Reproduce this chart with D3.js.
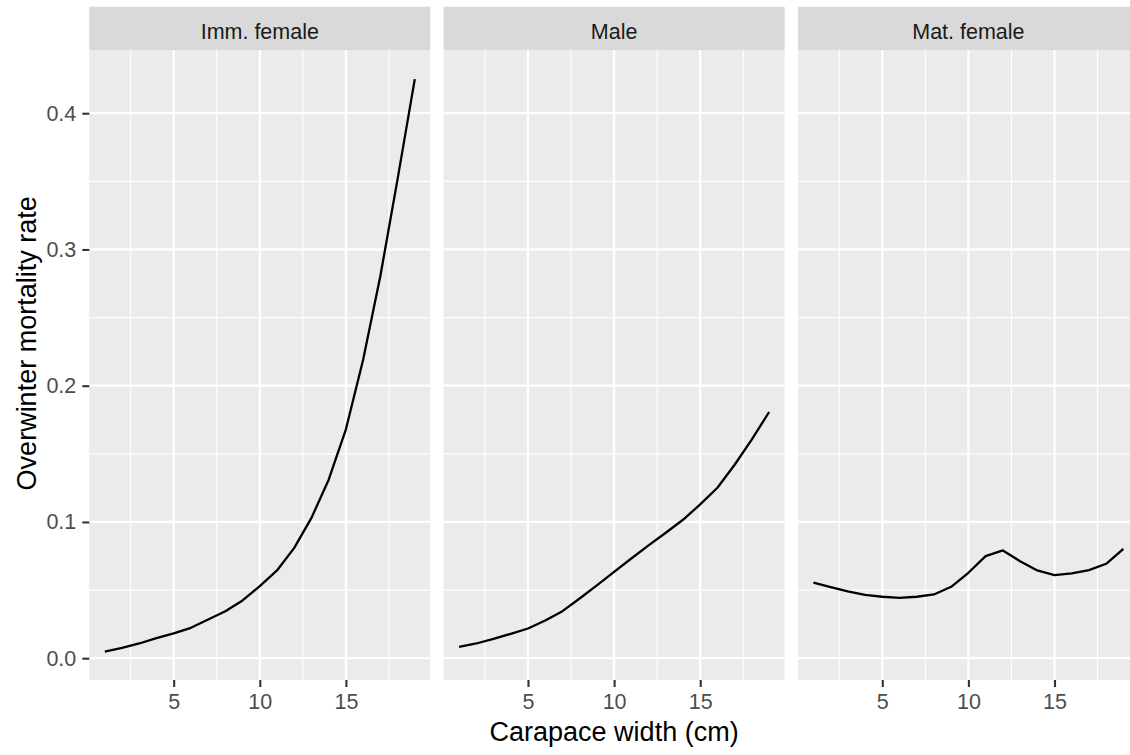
<!DOCTYPE html>
<html>
<head>
<meta charset="utf-8">
<script src="https://cdn.jsdelivr.net/npm/d3@7"></script>
<style>
  html, body { margin: 0; padding: 0; background: #ffffff; }
  svg { display: block; font-family: "Liberation Sans", Arial, sans-serif; }
</style>
</head>
<body>
<svg id="chart" width="1130" height="755"></svg>
<script>
// ---- data ----
const panels = ["Imm. female", "Male", "Mat. female"];
const carapaceWidth = [1, 2, 3, 4, 5, 6, 7, 8, 9, 10, 11, 12, 13, 14, 15, 16, 17, 18, 19];
const immFemale = [0.0049, 0.0076, 0.0108, 0.0147, 0.0182, 0.0223, 0.0284, 0.0345, 0.0424, 0.0529, 0.0644, 0.081, 0.103, 0.131, 0.168, 0.219, 0.2805, 0.3516, 0.425];
const male = [0.0084, 0.0108, 0.0142, 0.0179, 0.0218, 0.0277, 0.0345, 0.0438, 0.0534, 0.0634, 0.0732, 0.0828, 0.0921, 0.1016, 0.1129, 0.1251, 0.142, 0.1606, 0.1807];
const matFemale = [0.0554, 0.0522, 0.049, 0.0465, 0.0451, 0.0443, 0.0451, 0.0468, 0.0524, 0.0627, 0.0749, 0.0791, 0.0712, 0.0644, 0.061, 0.0622, 0.0646, 0.0693, 0.0803];
const xTicks = [5, 10, 15];
const xMinor = [2.5, 7.5, 12.5, 17.5];
const yTicks = [0.0, 0.1, 0.2, 0.3, 0.4];
const yMinor = [0.05, 0.15, 0.25, 0.35];
const xTitle = "Carapace width (cm)";
const yTitle = "Overwinter mortality rate";

const seriesList = [immFemale, male, matFemale];

// ---- layout ----
const svg = d3.select("#chart");
const panelLeft = 89.3, panelW = 341, panelGap = 13.3;
const stripTop = 6.7, stripBottom = 50, panelBottom = 680;

const y = d3.scaleLinear().domain([-0.016, 0.4464]).range([panelBottom, stripBottom]);

panels.forEach((name, i) => {
  const left = panelLeft + i * (panelW + panelGap);
  const x = d3.scaleLinear().domain([0.1, 19.9]).range([left, left + panelW]);
  const g = svg.append("g");

  // panel background
  g.append("rect").attr("x", left).attr("y", stripBottom)
    .attr("width", panelW).attr("height", panelBottom - stripBottom)
    .attr("fill", "#EBEBEB");

  // minor grid
  g.selectAll(".xminor").data(xMinor).enter().append("line")
    .attr("x1", d => x(d)).attr("x2", d => x(d))
    .attr("y1", stripBottom).attr("y2", panelBottom)
    .attr("stroke", "#ffffff").attr("stroke-width", 1.1);
  g.selectAll(".yminor").data(yMinor).enter().append("line")
    .attr("x1", left).attr("x2", left + panelW)
    .attr("y1", d => y(d)).attr("y2", d => y(d))
    .attr("stroke", "#ffffff").attr("stroke-width", 1.1);
  // major grid
  g.selectAll(".xmajor").data(xTicks).enter().append("line")
    .attr("x1", d => x(d)).attr("x2", d => x(d))
    .attr("y1", stripBottom).attr("y2", panelBottom)
    .attr("stroke", "#ffffff").attr("stroke-width", 2.2);
  g.selectAll(".ymajor").data(yTicks).enter().append("line")
    .attr("x1", left).attr("x2", left + panelW)
    .attr("y1", d => y(d)).attr("y2", d => y(d))
    .attr("stroke", "#ffffff").attr("stroke-width", 2.2);

  // strip
  g.append("rect").attr("x", left).attr("y", stripTop)
    .attr("width", panelW).attr("height", stripBottom - stripTop)
    .attr("fill", "#D9D9D9");
  g.append("text").attr("x", left + panelW / 2).attr("y", 38.8)
    .attr("text-anchor", "middle")
    .attr("font-size", 21.5).attr("fill", "#1A1A1A").text(name);

  // line
  const pts = carapaceWidth.map((cw, k) => [cw, seriesList[i][k]]);
  g.append("path").datum(pts)
    .attr("d", d3.line().x(d => x(d[0])).y(d => y(d[1])))
    .attr("fill", "none").attr("stroke", "#000000").attr("stroke-width", 2.3)
    .attr("stroke-linejoin", "round");

  // x axis
  const xa = g.append("g").attr("transform", `translate(0,${panelBottom})`)
    .call(d3.axisBottom(x).tickValues(xTicks).tickSize(7).tickPadding(7).tickFormat(d3.format("d")));
  xa.select(".domain").remove();
  xa.selectAll(".tick line").attr("stroke", "#333333").attr("stroke-width", 2.1);
  xa.selectAll(".tick text").attr("fill", "#4D4D4D").attr("font-size", 21.5)
    .attr("font-family", "Liberation Sans, Arial, sans-serif");

  if (i === 0) {
    const ya = g.append("g").attr("transform", `translate(${left},0)`)
      .call(d3.axisLeft(y).tickValues(yTicks).tickSize(7).tickPadding(6).tickFormat(d3.format(".1f")));
    ya.select(".domain").remove();
    ya.selectAll(".tick line").attr("stroke", "#333333").attr("stroke-width", 2.1);
    ya.selectAll(".tick text").attr("fill", "#4D4D4D").attr("font-size", 21.5)
      .attr("font-family", "Liberation Sans, Arial, sans-serif");
  }
});

// axis titles
const totalLeft = panelLeft, totalRight = panelLeft + 3 * panelW + 2 * panelGap;
svg.append("text").attr("x", (totalLeft + totalRight) / 2).attr("y", 741)
  .attr("text-anchor", "middle").attr("font-size", 27).attr("fill", "#000000").text(xTitle);
svg.append("text")
  .attr("transform", `translate(36,${(stripTop + panelBottom) / 2}) rotate(-90)`)
  .attr("text-anchor", "middle").attr("font-size", 27).attr("fill", "#000000").text(yTitle);
</script>
</body>
</html>
